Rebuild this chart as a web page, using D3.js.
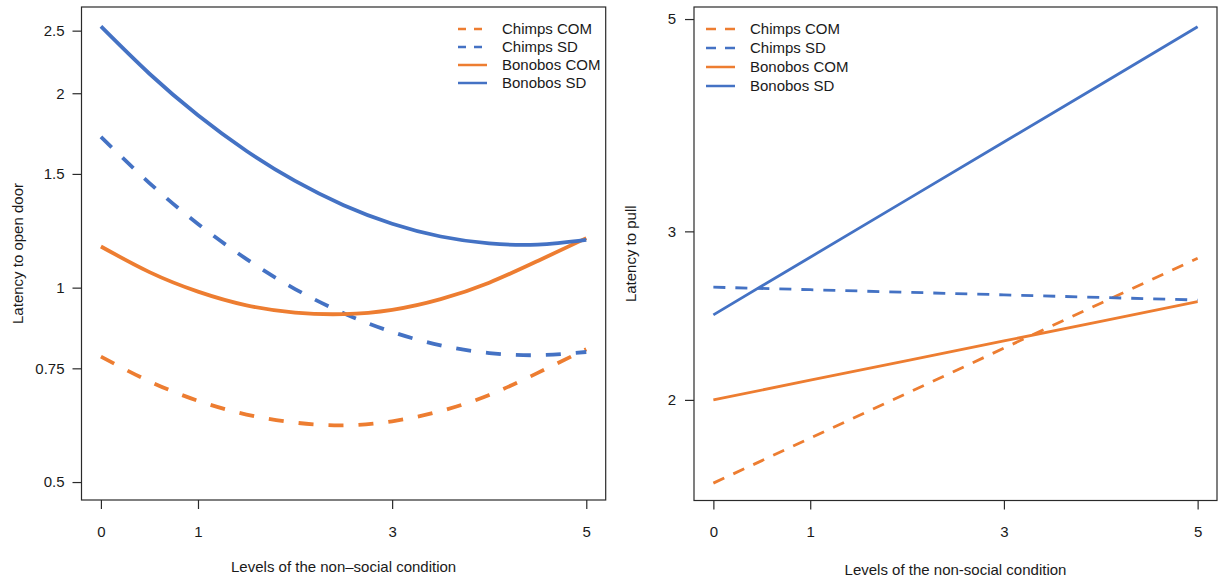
<!DOCTYPE html>
<html>
<head>
<meta charset="utf-8">
<script src="https://cdn.jsdelivr.net/npm/d3@7"></script>
<style>
  html, body { margin: 0; padding: 0; background: #fff; }
  svg text { font-family: "Liberation Sans", Arial, sans-serif; fill: #1a1a1a; }
</style>
</head>
<body>
<svg id="chart" width="1220" height="578"></svg>
<script>
// Predicted latencies across levels of the non-social condition
const seriesNames = ["Chimps COM", "Chimps SD", "Bonobos COM", "Bonobos SD"];

// Panel A: latency to open door (fitted curves sampled every half level)
const doorLevels = [0, 0.5, 1, 1.5, 2, 2.5, 3, 3.5, 4, 4.5, 5];
const doorChimpsCOM  = [0.782, 0.716, 0.668, 0.636, 0.618, 0.612, 0.621, 0.644, 0.682, 0.738, 0.803];
const doorChimpsSD   = [1.712, 1.452, 1.255, 1.107, 0.995, 0.913, 0.854, 0.814, 0.792, 0.786, 0.795];
const doorBonobosCOM = [1.158, 1.057, 0.986, 0.939, 0.915, 0.910, 0.924, 0.960, 1.018, 1.100, 1.193];
const doorBonobosSD  = [2.538, 2.144, 1.849, 1.628, 1.463, 1.342, 1.256, 1.200, 1.171, 1.166, 1.186];

// Panel B: latency to pull
const pullLevels = [0, 1, 2, 3, 4, 5];
const pullChimpsCOM  = [1.637, 1.824, 2.032, 2.265, 2.524, 2.812];
const pullChimpsSD   = [2.623, 2.607, 2.591, 2.575, 2.559, 2.543];
const pullBonobosCOM = [2.000, 2.097, 2.198, 2.305, 2.416, 2.533];
const pullBonobosSD  = [2.454, 2.819, 3.238, 3.719, 4.272, 4.908];

// Axis ticks
const xTicks = [0, 1, 3, 5];
const doorTicks = [0.5, 0.75, 1, 1.5, 2, 2.5];
const doorTickLabels = ["0.5", "0.75", "1", "1.5", "2", "2.5"];
const pullTicks = [2, 3, 5];
const pullTickLabels = ["2", "3", "5"];

const seriesColor = ["#ED7D31", "#4472C4", "#ED7D31", "#4472C4"];
const seriesDashed = [true, true, false, false];

const svg = d3.select("#chart");
svg.append("rect").attr("width", 1220).attr("height", 578).attr("fill", "#fff");

function drawPanel(cfg) {
  const x = d3.scaleLinear().domain([-0.2, 5.2]).range([cfg.left, cfg.right]);
  const y = d3.scaleLog().domain(cfg.yDomain).range([cfg.bottom, cfg.top]);
  const g = svg.append("g");

  const line = d3.line()
    .x(d => x(d[0]))
    .y(d => y(d[1]))
    .curve(cfg.curve);

  cfg.series.forEach((vals, i) => {
    const pts = cfg.levels.map((lv, j) => [lv, vals[j]]);
    g.append("path")
      .attr("d", line(pts))
      .attr("fill", "none")
      .attr("stroke", seriesColor[i])
      .attr("stroke-width", cfg.lineWidth)
      .attr("stroke-dasharray", seriesDashed[i] ? cfg.dash : null);
  });

  // frame
  g.append("rect")
    .attr("x", cfg.left).attr("y", cfg.top)
    .attr("width", cfg.right - cfg.left).attr("height", cfg.bottom - cfg.top)
    .attr("fill", "none").attr("stroke", "#2a2a2a").attr("stroke-width", 1.2);

  const xAxis = g.append("g")
    .attr("transform", `translate(0,${cfg.bottom})`)
    .call(d3.axisBottom(x).tickValues(xTicks).tickFormat(d3.format("d"))
      .tickSize(9).tickPadding(17));
  const yAxis = g.append("g")
    .attr("transform", `translate(${cfg.left},0)`)
    .call(d3.axisLeft(y).tickValues(cfg.yTicks)
      .tickFormat((d, i) => cfg.yTickLabels[i])
      .tickSize(9).tickPadding(cfg.yPad));
  [xAxis, yAxis].forEach(a => {
    a.select(".domain").remove();
    a.selectAll("line").attr("stroke", "#2a2a2a").attr("stroke-width", 1.2);
    a.selectAll("text").attr("font-size", 15).attr("fill", "#1a1a1a")
      .attr("font-family", "Liberation Sans, Arial, sans-serif");
  });

  g.append("text")
    .attr("x", (cfg.left + cfg.right) / 2).attr("y", cfg.xTitleY)
    .attr("text-anchor", "middle").attr("font-size", 15)
    .text(cfg.xTitle);
  g.append("text")
    .attr("transform", `translate(${cfg.yTitleX},${(cfg.top + cfg.bottom) / 2}) rotate(-90)`)
    .attr("text-anchor", "middle").attr("font-size", 15)
    .text(cfg.yTitle);

  // legend
  const lg = g.append("g");
  seriesNames.forEach((name, i) => {
    const ly = cfg.legendY + i * cfg.legendStep;
    lg.append("line")
      .attr("x1", cfg.legendX).attr("x2", cfg.legendX + 29)
      .attr("y1", ly).attr("y2", ly)
      .attr("stroke", seriesColor[i]).attr("stroke-width", 2.5)
      .attr("stroke-dasharray", seriesDashed[i] ? cfg.legendDash : null);
    lg.append("text")
      .attr("x", cfg.legendX + 44).attr("y", ly + 5)
      .attr("font-size", 15)
      .text(name);
  });
}

drawPanel({
  left: 81.5, right: 605.7, top: 7, bottom: 500,
  yDomain: [0.469, 2.72],
  levels: doorLevels,
  series: [doorChimpsCOM, doorChimpsSD, doorBonobosCOM, doorBonobosSD],
  curve: d3.curveNatural,
  lineWidth: 3.8, dash: "15,15",
  yTicks: doorTicks, yTickLabels: doorTickLabels, yPad: 8,
  xTitle: "Levels of the non\u2013social condition", xTitleY: 572,
  yTitle: "Latency to open door", yTitleX: 23,
  legendX: 458, legendY: 29, legendStep: 18, legendDash: "8,8"
});

drawPanel({
  left: 694, right: 1217, top: 7, bottom: 500.5,
  yDomain: [1.570, 5.147],
  levels: pullLevels,
  series: [pullChimpsCOM, pullChimpsSD, pullBonobosCOM, pullBonobosSD],
  curve: d3.curveLinear,
  lineWidth: 2.8, dash: "12,10",
  yTicks: pullTicks, yTickLabels: pullTickLabels, yPad: 9,
  xTitle: "Levels of the non-social condition", xTitleY: 575,
  yTitle: "Latency to pull", yTitleX: 636,
  legendX: 706, legendY: 29, legendStep: 19, legendDash: "10,9"
});
</script>
</body>
</html>
